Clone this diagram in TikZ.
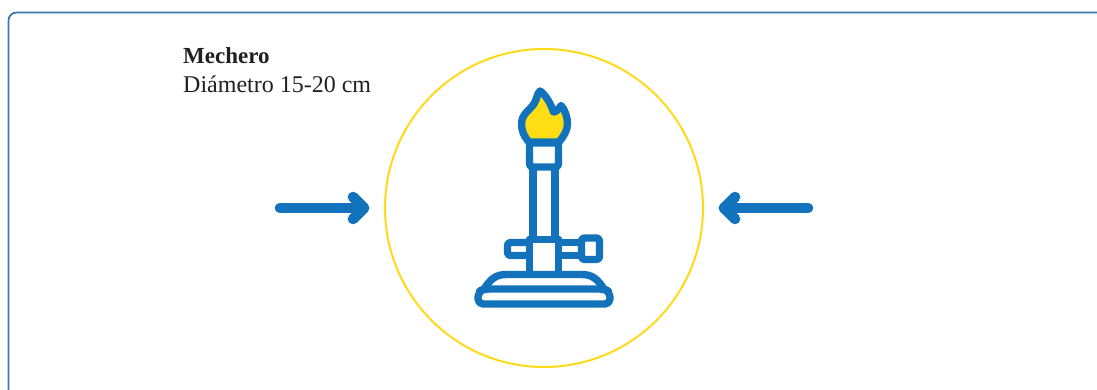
\documentclass[tikz,border=0pt]{standalone}
\usepackage{fontspec}
\setmainfont{Liberation Serif}
\definecolor{frameblue}{HTML}{3F78B0}
\definecolor{iconblue}{HTML}{1272BC}
\definecolor{flameyellow}{HTML}{FFDD15}
\definecolor{ringyellow}{HTML}{FFD91A}
\definecolor{inktext}{HTML}{231F20}
\tikzset{
  icon/.style={draw=iconblue,line width=7.4pt,line join=round,line cap=round},
  arrowline/.style={draw=iconblue,line width=10.6pt,line join=round,line cap=round},
  label/.style={anchor=base west,inner sep=0pt,text=inktext,font=\fontsize{24}{24}\selectfont},
}
\begin{document}
\begin{tikzpicture}[x=1pt,y=-1pt]
\useasboundingbox (0,0) rectangle (1097,390);
% frame
\draw[frameblue,line width=1.8pt,rounded corners=8pt] (8.5,420) -- (8.5,12.5) -- (1130,12.5);
% ring
\node[draw=ringyellow,line width=2pt,circle,minimum size=318pt,inner sep=0pt] (ring) at (544,208) {};
% labels
\node[label,font=\fontsize{23}{23}\selectfont\bfseries] (title) at (183,64) {Mechero};
\node[label] (sub) at (183,93) {Diámetro 15-20 cm};
% arrows
\coordinate (la) at (280,208); \coordinate (lb) at (364,208);
\coordinate (lc) at (353,197); \coordinate (ld) at (353,219);
\draw[arrowline] (la) -- (lb);
\draw[arrowline] (lc) -- (lb) -- (ld);
\coordinate (ra) at (808,208); \coordinate (rb) at (724,208);
\coordinate (rc) at (735,197); \coordinate (rd) at (735,219);
\draw[arrowline] (ra) -- (rb);
\draw[arrowline] (rc) -- (rb) -- (rd);
% burner: flame
\draw[icon,fill=flameyellow]
  (529,142) .. controls (523.5,136) and (521.5,130) .. (521.5,124)
  .. controls (521.5,113) and (531,110) .. (535,102)
  .. controls (537,98) and (537,94) .. (540,91)
  .. controls (545,94) and (551,104) .. (553.5,112)
  .. controls (556,112) and (559,109) .. (561,105.5)
  .. controls (565,110) and (567.5,117) .. (567.5,124)
  .. controls (567.5,131) and (563,137) .. (559,142) -- cycle;
% neck and tube
\draw[icon,rounded corners=3pt] (529.5,143) rectangle (558.5,167);
\draw[icon] (533,167) -- (533,239);
\draw[icon] (555,167) -- (555,239);
% mixer
\draw[icon] (529.5,239.5) -- (529.5,274);
\draw[icon] (558.5,239.5) -- (558.5,274);
\draw[icon] (529.5,239.5) -- (558.5,239.5);
% air tabs
\draw[icon,rounded corners=3pt] (529.5,242.5) -- (507.5,242.5) -- (507.5,255.5) -- (529.5,255.5);
\draw[icon] (558.5,242.5) -- (581.5,242.5);
\draw[icon] (558.5,255.5) -- (581.5,255.5);
\draw[icon,rounded corners=3pt] (581.5,238) rectangle (599.5,259.5);
% base
\draw[icon] (484,289) .. controls (490,280) and (495,274.5) .. (506,274.5)
  -- (582,274.5) .. controls (593,274.5) and (598,280) .. (604,289);
\draw[icon,rounded corners=5pt] (484,289) -- (478,292) -- (478,304) -- (610,304) -- (610,292) -- (604,289) -- cycle;
\end{tikzpicture}
\end{document}
